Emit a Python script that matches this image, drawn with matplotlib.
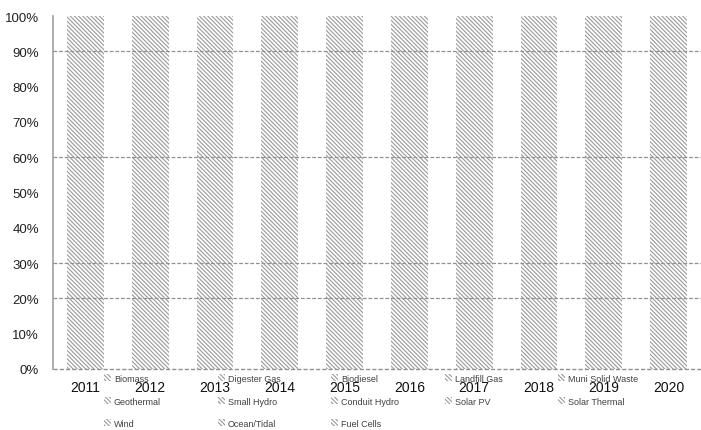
import matplotlib.pyplot as plt
import numpy as np

years = ['2011', '2012', '2013', '2014', '2015', '2016', '2017', '2018', '2019', '2020']
sources = ['Biomass', 'Digester Gas', 'Biodiesel', 'Landfill Gas', 'Muni Solid Waste',
           'Geothermal', 'Small Hydro', 'Conduit Hydro', 'Solar PV', 'Solar Thermal',
           'Wind', 'Ocean/Tidal', 'Fuel Cells']

# estimated generation shares (percent) per source, one row per source
biomass      = [18, 17, 16, 15, 14, 13, 12, 11, 10, 10]
digester_gas = [2, 2, 2, 2, 2, 2, 2, 2, 2, 2]
biodiesel    = [0, 0, 0, 0, 0, 0, 0, 0, 0, 0]
landfill_gas = [8, 8, 7, 7, 6, 6, 6, 5, 5, 5]
muni_waste   = [1, 1, 1, 1, 1, 1, 1, 1, 1, 1]
geothermal   = [40, 38, 34, 30, 28, 26, 24, 22, 21, 20]
small_hydro  = [12, 12, 10, 8, 6, 8, 9, 7, 8, 6]
conduit      = [1, 1, 1, 1, 1, 1, 1, 1, 1, 1]
solar_pv     = [2, 4, 9, 15, 20, 23, 26, 31, 33, 36]
solar_therm  = [1, 1, 2, 4, 5, 5, 5, 5, 4, 4]
wind         = [15, 16, 18, 17, 17, 15, 14, 15, 15, 15]
ocean        = [0, 0, 0, 0, 0, 0, 0, 0, 0, 0]
fuel_cells   = [0, 0, 0, 0, 0, 0, 0, 0, 0, 0]

data = np.array([biomass, digester_gas, biodiesel, landfill_gas, muni_waste,
                 geothermal, small_hydro, conduit, solar_pv, solar_therm,
                 wind, ocean, fuel_cells], dtype=float)
data = data / data.sum(axis=0) * 100

plt.rcParams['font.family'] = ['Liberation Sans', 'DejaVu Sans']
plt.rcParams['hatch.linewidth'] = 0.8

fig = plt.figure(figsize=(7.01, 4.31), dpi=100)
ax = fig.add_axes([53/701, 1 - 370/431, 1 - 53/701, (370 - 17)/431])

x = np.arange(len(years))
bottom = np.zeros(len(years))
handles = []
for i, name in enumerate(sources):
    b = ax.bar(x, data[i], 0.57, bottom=bottom, facecolor='none',
               edgecolor='#999999', linewidth=0, hatch='\\' * 8, label=name, zorder=2)
    handles.append(b)
    bottom += data[i]

# visible dashed gridlines
for g in [20, 30, 60, 90]:
    ax.axhline(g, color='#909090', lw=0.9, ls=(0, (3, 1.5)), zorder=3)
ax.axhline(0, color='#909090', lw=1.0, ls=(0, (3, 1.5)), zorder=3, clip_on=False)

ax.set_xlim(-0.5, len(years) - 0.5)
ax.set_ylim(0, 100)
ax.set_yticks(np.arange(0, 101, 10))
ax.set_yticklabels([f'{v}%' for v in range(0, 101, 10)], fontsize=9.5, color='#222222')
ax.set_xticks(x)
ax.set_xticklabels(years, fontsize=10, color='#111111')
ax.tick_params(axis='both', length=0)
ax.tick_params(axis='x', pad=8)
ax.tick_params(axis='y', pad=10)
for s in ['top', 'right', 'bottom']:
    ax.spines[s].set_visible(False)
ax.spines['left'].set_color('#a0a0a0')
ax.spines['left'].set_linewidth(1.2)

# legend: 5 evenly spaced columns filled row-wise
col_x = [104, 218, 331, 445, 558]
for c in range(5):
    idx = list(range(c, len(sources), 5))
    fig.legend([handles[i] for i in idx], [sources[i] for i in idx],
               loc='upper left', bbox_to_anchor=(col_x[c]/701, 1 - 375/431),
               frameon=False, fontsize=6.5, labelcolor='#404040',
               handlelength=0.8, handleheight=0.8, handletextpad=0.3,
               labelspacing=1.5, borderpad=0, borderaxespad=0)

fig.savefig('out.png', dpi=100)
